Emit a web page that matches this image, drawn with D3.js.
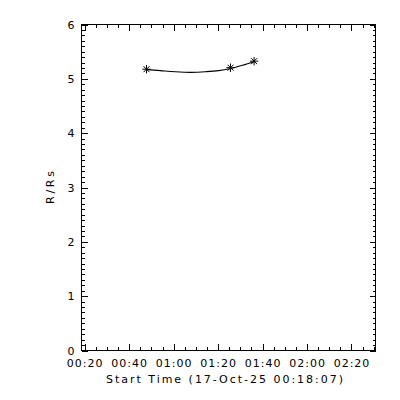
<!DOCTYPE html>
<html>
<head>
<meta charset="UTF-8">
<script src="https://cdnjs.cloudflare.com/ajax/libs/d3/7.8.5/d3.min.js"></script>
<style>
  body { margin: 0; background: #fff; }
  svg { display: block; }
  text { font-family: "DejaVu Sans", sans-serif; font-size: 11px; fill: #000; }
  .axis line, .frame { stroke: #000; stroke-width: 1; shape-rendering: crispEdges; }
</style>
</head>
<body>
<svg width="400" height="400"></svg>
<script>
// data (17-Oct-25, UT)
const day = "2025-10-17";
const xRange = ["00:18:34", "02:30:48"];
const xTickLabels = ["00:20", "00:40", "01:00", "01:20", "01:40", "02:00", "02:20"];
const yTicks = [0, 1, 2, 3, 4, 5, 6];

// measured heights (asterisks)
const obsTimes = ["00:47:48", "01:25:36", "01:36:12"];
const obsR = [5.177, 5.205, 5.325];

// fitted curve
const fitTimes = ["00:47:48", "00:54:06", "01:00:48", "01:07:36", "01:14:18", "01:20:12", "01:25:36", "01:31:00", "01:36:24"];
const fitR = [5.17, 5.15, 5.13, 5.12, 5.13, 5.15, 5.19, 5.25, 5.32];

const parse = d3.utcParse("%Y-%m-%d %H:%M:%S");
const t = s => parse(day + " " + (s.length === 5 ? s + ":00" : s));

const svg = d3.select("svg");
const L = 81.5, R = 375.5, T = 24.5, B = 350.5;

const x = d3.scaleUtc().domain(xRange.map(t)).range([L, R]);
const y = d3.scaleLinear().domain([0, 6]).range([B, T]);

const majorX = xTickLabels.map(t);
const minorX = d3.utcMinute.every(5).range(x.domain()[0], x.domain()[1]).filter(d => d.getUTCMinutes() % 20 !== 0);
const minorY = d3.range(0, 6.0001, 0.1).filter(v => Math.abs(v - Math.round(v)) > 1e-6);

const fmt = d3.utcFormat("%H:%M");

// bottom axis with labels
svg.append("g").attr("class", "axis").attr("transform", `translate(0,${B})`)
  .call(d3.axisBottom(x).tickValues(majorX).tickFormat(fmt).tickSize(-6.5).tickSizeOuter(0))
  .call(g => g.select(".domain").remove())
  .call(g => g.selectAll("text").attr("y", 16.5).attr("dy", 0).style("letter-spacing", "1px"));
svg.append("g").attr("class", "axis").attr("transform", `translate(0,${B})`)
  .call(d3.axisBottom(x).tickValues(minorX).tickFormat("").tickSize(-3.5).tickSizeOuter(0))
  .call(g => g.select(".domain").remove());
// top axis, ticks only
svg.append("g").attr("class", "axis").attr("transform", `translate(0,${T})`)
  .call(d3.axisTop(x).tickValues(majorX).tickFormat("").tickSize(-6.5).tickSizeOuter(0))
  .call(g => g.select(".domain").remove());
svg.append("g").attr("class", "axis").attr("transform", `translate(0,${T})`)
  .call(d3.axisTop(x).tickValues(minorX).tickFormat("").tickSize(-3.5).tickSizeOuter(0))
  .call(g => g.select(".domain").remove());

// left axis with labels
svg.append("g").attr("class", "axis").attr("transform", `translate(${L},0)`)
  .call(d3.axisLeft(y).tickValues(yTicks).tickFormat(d3.format("d")).tickSize(-6).tickSizeOuter(0))
  .call(g => g.select(".domain").remove())
  .call(g => g.selectAll("text").attr("x", -7));
svg.append("g").attr("class", "axis").attr("transform", `translate(${L},0)`)
  .call(d3.axisLeft(y).tickValues(minorY).tickFormat("").tickSize(-3).tickSizeOuter(0))
  .call(g => g.select(".domain").remove());
// right axis, ticks only
svg.append("g").attr("class", "axis").attr("transform", `translate(${R},0)`)
  .call(d3.axisRight(y).tickValues(yTicks).tickFormat("").tickSize(-6).tickSizeOuter(0))
  .call(g => g.select(".domain").remove());
svg.append("g").attr("class", "axis").attr("transform", `translate(${R},0)`)
  .call(d3.axisRight(y).tickValues(minorY).tickFormat("").tickSize(-3).tickSizeOuter(0))
  .call(g => g.select(".domain").remove());

// frame
svg.append("rect").attr("class", "frame")
  .attr("x", L).attr("y", T).attr("width", R - L).attr("height", B - T)
  .attr("fill", "none");

// axis titles
svg.append("text").attr("x", 224.5).attr("y", 383).attr("text-anchor", "middle")
  .attr("textLength", 237).attr("lengthAdjust", "spacing")
  .text("Start Time (17-Oct-25 00:18:07)");
svg.append("text").attr("transform", `translate(54,${(T + B) / 2}) rotate(-90)`)
  .attr("text-anchor", "middle").attr("textLength", 33).attr("lengthAdjust", "spacing")
  .text("R/Rs");

// fit curve
const fit = fitTimes.map((s, i) => [t(s), fitR[i]]);
svg.append("path").datum(fit)
  .attr("fill", "none").attr("stroke", "#000").attr("stroke-width", 1.2)
  .attr("d", d3.line().x(d => x(d[0])).y(d => y(d[1])).curve(d3.curveMonotoneX));

// asterisks
const star = r => {
  const p = [];
  for (let k = 0; k < 4; k++) {
    const a = k * Math.PI / 4;
    p.push(`M${-r * Math.cos(a)},${-r * Math.sin(a)}L${r * Math.cos(a)},${r * Math.sin(a)}`);
  }
  return p.join("");
};
svg.append("g").selectAll("path").data(obsTimes.map((s, i) => [t(s), obsR[i]]))
  .join("path")
  .attr("transform", d => `translate(${x(d[0])},${y(d[1])})`)
  .attr("d", star(4.2)).attr("stroke", "#000").attr("stroke-width", 1).attr("fill", "none");
</script>
</body>
</html>
